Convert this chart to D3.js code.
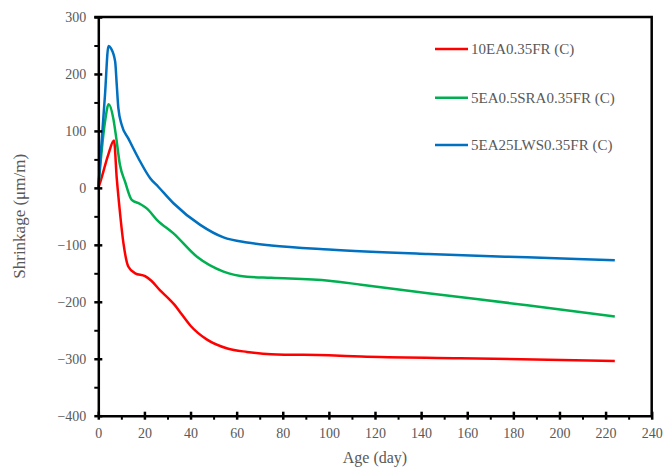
<!DOCTYPE html>
<html lang="en">
  <head>
    <meta charset="UTF-8" />
    <title>Shrinkage vs Age</title>
    <script src="https://cdn.jsdelivr.net/npm/d3@7"></script>
    <style>
      body { margin: 0; background: #fff; }
      svg { font-family: "Liberation Serif", "Times New Roman", serif; }
    </style>
  </head>
  <body>
    <svg width="665" height="470"></svg>
    <script>
      // series values (day, µm/m)
      const redAge = [0, 1, 4.3, 6.8, 8, 9, 10.9, 13, 16, 20.3, 23, 26.8, 30.4, 33, 36, 40, 47, 56, 64.5, 75, 100, 114, 157, 224];
      const redVal = [0, 12, 58, 83, 17, -27, -97, -138, -150, -155, -163, -180, -194, -205, -221, -242, -266, -282, -288, -292, -294, -296, -299, -304];

      const greenAge = [0, 2.9, 4.5, 6.5, 7.6, 9.4, 11.6, 14.5, 18, 21, 25.4, 32.6, 42.8, 54.3, 64.5, 75, 100, 114, 143, 186, 224];
      const greenVal = [0, 116, 147, 122, 93, 40, 11, -21, -28, -36, -56, -80, -121, -147, -156, -158, -163, -170, -185, -206, -226];

      const blueAge = [0, 2.9, 4.4, 5.5, 7.3, 8, 8.7, 10.2, 13, 17.4, 22.5, 26, 32.6, 44.2, 54.3, 64.5, 75, 100, 143, 186, 224];
      const blueVal = [0, 163, 249, 245, 222, 181, 140, 110, 87, 52, 17, 2, -27, -65, -87, -96, -101, -108, -116, -122, -127];

      const seriesNames = ["10EA0.35FR (C)", "5EA0.5SRA0.35FR (C)", "5EA25LWS0.35FR (C)"];
      const colors = ["#FF0000", "#00B050", "#0070C0"];

      const xTicks = d3.range(0, 241, 20);
      const yTicks = d3.range(-400, 301, 100);

      const plotL = 98.3, plotR = 651.7, plotT = 17, plotB = 415.7;

      const x = d3.scaleLinear().domain([0, 240]).range([plotL, plotR]);
      const y = d3.scaleLinear().domain([-400, 300]).range([plotB, plotT]);

      const svg = d3.select("svg");
      const textColor = "#595959";

      const series = [
        redAge.map((a, i) => ({ age: a, v: redVal[i] })),
        greenAge.map((a, i) => ({ age: a, v: greenVal[i] })),
        blueAge.map((a, i) => ({ age: a, v: blueVal[i] })),
      ];

      const line = d3.line()
        .x((d) => x(d.age))
        .y((d) => y(d.v))
        .curve(d3.curveMonotoneX);

      svg.selectAll("path.series")
        .data(series)
        .join("path")
        .attr("class", "series")
        .attr("d", line)
        .attr("fill", "none")
        .attr("stroke", (d, i) => colors[i])
        .attr("stroke-width", 2.5)
        .attr("stroke-linejoin", "round");

      // frame (top and right)
      svg.append("path")
        .attr("d", `M${plotL - 4},${plotT}H${plotR}V${plotB}`)
        .attr("fill", "none")
        .attr("stroke", "#000")
        .attr("stroke-width", 2.5);

      // minor ticks
      const xMinor = svg.append("g").attr("transform", `translate(0,${plotB})`)
        .call(d3.axisBottom(x).tickValues(d3.range(10, 240, 20)).tickSize(4).tickFormat(""));
      xMinor.select(".domain").remove();
      xMinor.selectAll("line").attr("stroke-width", 2);

      const yMinor = svg.append("g").attr("transform", `translate(${plotL},0)`)
        .call(d3.axisLeft(y).tickValues(d3.range(-350, 300, 100)).tickSize(4).tickFormat(""));
      yMinor.select(".domain").remove();
      yMinor.selectAll("line").attr("stroke-width", 2);

      // major axes
      const xAxis = svg.append("g").attr("transform", `translate(0,${plotB})`)
        .call(d3.axisBottom(x).tickValues(xTicks).tickSizeOuter(0).tickPadding(10));
      xAxis.select(".domain").attr("stroke-width", 2.5);
      xAxis.selectAll(".tick line").attr("y1", -4).attr("y2", 4).attr("stroke-width", 2.5);
      xAxis.selectAll("text").attr("font-size", 14).attr("fill", textColor)
        .attr("font-family", "Liberation Serif").attr("dy", "0.9em").attr("y", 10);

      const yAxis = svg.append("g").attr("transform", `translate(${plotL},0)`)
        .call(d3.axisLeft(y).tickValues(yTicks).tickSizeOuter(0).tickPadding(12));
      yAxis.select(".domain").attr("stroke-width", 2.5);
      yAxis.selectAll(".tick line").attr("x1", -4).attr("x2", 4).attr("stroke-width", 2.5);
      yAxis.selectAll("text").attr("font-size", 14).attr("fill", textColor)
        .attr("font-family", "Liberation Serif").attr("x", -12);

      // axis titles
      svg.append("text")
        .attr("x", (plotL + plotR) / 2)
        .attr("y", 463)
        .attr("text-anchor", "middle")
        .attr("font-size", 16)
        .attr("fill", textColor)
        .text("Age (day)");

      svg.append("text")
        .attr("transform", `translate(25,${(plotT + plotB) / 2}) rotate(-90)`)
        .attr("text-anchor", "middle")
        .attr("font-size", 17)
        .attr("fill", textColor)
        .text("Shrinkage (μm/m)");

      // legend
      const legendY = [49, 97.7, 145];
      const legend = svg.append("g");
      seriesNames.forEach((name, i) => {
        legend.append("line")
          .attr("x1", 435).attr("x2", 468)
          .attr("y1", legendY[i]).attr("y2", legendY[i])
          .attr("stroke", colors[i]).attr("stroke-width", 2.5);
        legend.append("text")
          .attr("x", 471)
          .attr("y", legendY[i])
          .attr("dy", "0.35em")
          .attr("font-size", 15)
          .attr("fill", textColor)
          .text(name);
      });
    </script>
  </body>
</html>
